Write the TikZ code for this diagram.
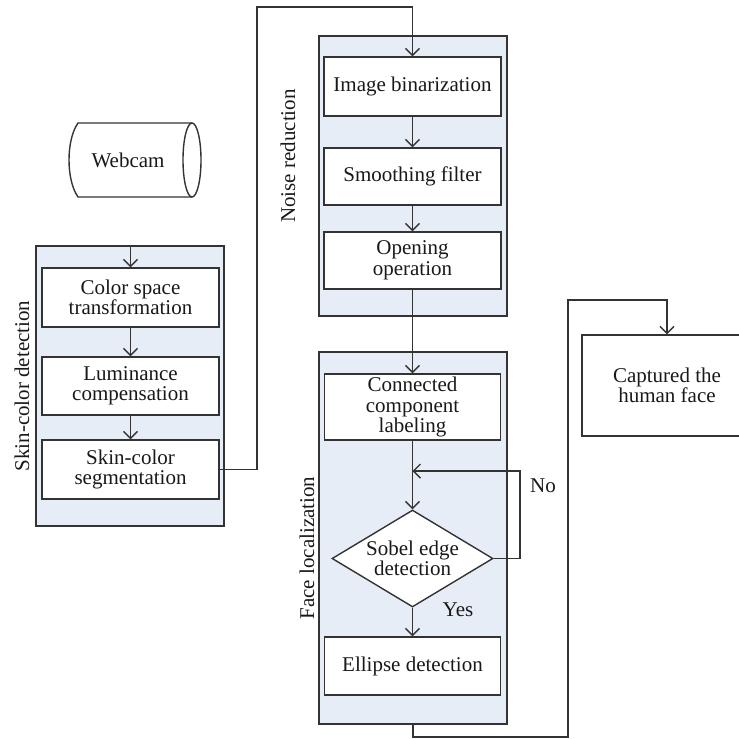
\documentclass[tikz,border=0pt]{standalone}
\usepackage{fontspec}
\setmainfont{Liberation Serif}
\usetikzlibrary{arrows.meta,shapes.geometric}
\definecolor{lc}{HTML}{333333}
\definecolor{grp}{HTML}{E6EDF6}
\begin{document}
\begin{tikzpicture}[x=1pt,y=-1pt,
  every node/.style={font=\fontsize{21}{20.5}\selectfont, text=black!90},
  box/.style={draw=lc, fill=white, line width=1.4pt, minimum width=177pt, align=center, inner sep=0pt},
  grpbox/.style={draw=lc, fill=grp, line width=1.5pt, inner sep=0pt},
  conn/.style={draw=lc, line width=1.4pt},
  arr/.style={conn, -{Straight Barb[length=7pt,width=14pt,line width=1.4pt]}},
  vlabel/.style={rotate=90}
]
\useasboundingbox (0,0) rectangle (739,739);
\clip (0,0) rectangle (739,739);

% groups
\node[grpbox, minimum width=188pt, minimum height=280pt] (sgrp) at (130,386) {};
\node[grpbox, minimum width=188pt, minimum height=280pt] (ngrp) at (413,176) {};
\node[grpbox, minimum width=188pt, minimum height=372pt] (fgrp) at (413,538) {};

% group labels
\node[vlabel] (lskin) at (22,386) {Skin-color detection};
\node[vlabel] (lnoise) at (288,156) {Noise reduction};
\node[vlabel] (lface) at (307,548) {Face localization};

% webcam
\draw[conn] (192,123) -- (78,123) .. controls (66,140) and (66,180) .. (78,197) -- (192,197);
\draw[conn] (192,160) ellipse [x radius=9pt, y radius=37pt];
\node (webcam) at (128,160) {Webcam};

% skin-color boxes
\node[box, minimum height=59pt] (cst) at (130.5,297.5) {Color space\\transformation};
\node[box, minimum height=58pt] (lum) at (130.5,386) {Luminance\\compensation};
\node[box, minimum height=59pt] (seg) at (130.5,469.5) {Skin-color\\segmentation};

% noise boxes
\node[box, minimum height=59pt] (ib) at (412.5,86.5) {Image binarization};
\node[box, minimum height=57pt] (sf) at (412.5,176.5) {Smoothing filter};
\node[box, minimum height=57pt] (op) at (412.5,260.5) {Opening\\operation};

% face boxes
\node[box, minimum width=176pt, minimum height=66pt] (cc) at (412.5,407) {Connected\\component\\labeling};
\node[diamond, draw=lc, fill=white, line width=1.4pt, aspect=1.66, inner sep=-3pt,
      minimum width=161pt, minimum height=97pt, align=center] (dia) at (412.5,558.5) {Sobel edge\\detection};
\node[box, minimum width=176pt, minimum height=58pt] (el) at (412.5,666) {Ellipse detection};

% captured
\node[box, minimum width=170pt, minimum height=101pt] (cap) at (667,385.5) {Captured the\\human face};

% labels
\node (no) at (543,486) {No};
\node (yes) at (458,610) {Yes};

% connectors
\draw[arr] (cst.north |- sgrp.north) -- (cst.north);
\draw[arr] (cst) -- (lum);
\draw[arr] (lum) -- (seg);
\coordinate (r1) at (257,7);
\draw[arr] (seg.east) -| (r1) -| (ib.north);
\draw[arr] (ib) -- (sf);
\draw[arr] (sf) -- (op);
\draw[arr] (op) -- (cc);
\draw[arr] (cc) -- (dia);
\coordinate (lp) at (520,471);
\draw[arr] (dia.east) -| (lp) -- (lp -| dia.north);
\draw[arr] (dia) -- (el);
\coordinate (b1) at (568,737);
\coordinate (b2) at (568,300);
\draw[arr] (fgrp.south) |- (b1) -- (b2) -| (cap.north);
\end{tikzpicture}
\end{document}
